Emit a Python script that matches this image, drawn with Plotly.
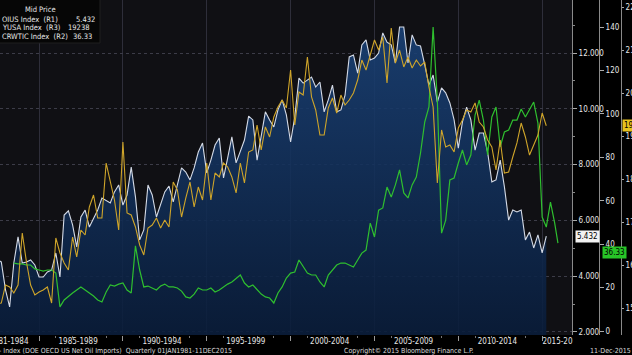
import pandas as pd
import plotly.graph_objects as go

# ---------------- data ----------------
quarters = pd.date_range("1981-01-01", "2015-04-01", freq="QS")  # 1981Q1 .. 2015Q2

net_imports = [  # DOEIUS Index (R1), million b/d
    6.2, 5.6, 5.3, 5.0,
    4.5, 4.0, 4.6, 4.51,
    3.51, 2.90, 4.47, 5.41,
    4.47, 4.51, 4.58, 4.40,
    3.97, 3.97, 4.15, 4.22,
    4.83, 3.97, 6.19, 6.34,
    5.84, 5.05, 6.12, 6.37,
    5.76, 6.09, 6.37, 6.80,
    6.70, 6.62, 7.02, 7.27,
    6.55, 6.91, 7.91, 6.84,
    5.30, 5.66, 7.27, 6.91,
    6.12, 6.55, 7.02, 7.23,
    6.66, 7.27, 7.88, 7.73,
    7.45, 7.88, 8.45, 8.77,
    7.70, 8.16, 8.70, 8.95,
    7.52, 8.24, 8.99, 8.06,
    8.45, 8.88, 9.74, 9.60,
    8.16, 8.99, 9.89, 9.60,
    9.35, 9.96, 10.32, 9.78,
    8.81, 9.71, 11.10, 10.92,
    11.03, 11.14, 10.78, 10.96,
    9.89, 10.32, 10.85, 9.89,
    9.96, 10.49, 11.86, 11.93,
    11.28, 12.29, 12.47, 11.75,
    11.82, 12.00, 12.72, 12.39,
    12.29, 11.64, 12.93, 12.93,
    11.64, 12.65, 12.29, 12.25,
    11.57, 10.85, 11.21, 10.24,
    10.75, 10.57, 10.21, 9.60,
    8.59, 9.53, 10.06, 9.60,
    8.52, 9.13, 9.13, 8.45,
    7.38, 7.45, 8.16, 7.20,
    6.01, 6.37, 6.30, 6.37,
    5.30, 5.58, 5.01, 5.48,
    4.83, 5.432,
]

consumption = [  # ...YUSA Index (R3)
    16600, 15700, 15800, 16000,
    15600, 14900, 15100, 15116,
    15535, 15488, 15349, 15535,
    16745, 16070, 15535, 15302,
    15372, 15419, 15488, 15116,
    16628, 16279, 16047, 15884,
    16651, 16186, 16814, 16698,
    17349, 17628, 17093, 17093,
    18372, 17977, 17512, 16814,
    18861, 17209, 17163, 16884,
    16465, 16233, 16861, 16930,
    17093, 16861, 17047, 16884,
    17931, 17745, 17116, 17558,
    17931, 17349, 17814, 17512,
    18372, 17512, 18140, 18047,
    18372, 18280, 18047, 17675,
    18372, 17907, 18628, 18675,
    19256, 18675, 19210, 18977,
    19442, 19675, 19837, 19651,
    20535, 19256, 20023, 19953,
    20837, 19907, 19605, 19023,
    19023, 19651, 19884, 19535,
    19953, 19721, 19837, 20000,
    20302, 20767, 20535, 20884,
    21233, 21000, 21302, 20233,
    21512, 20698, 21000, 20605,
    20837, 20581, 20767, 20628,
    20721, 20140, 19675, 17907,
    19140, 18745, 18791, 18628,
    19186, 19372, 19605, 19558,
    19768, 19326, 19210, 18907,
    18745, 18209, 18907, 18140,
    18163, 18512, 18838, 19302,
    18977, 18558, 18791, 19023,
    19535, 19238,
]

wti_dates = list(pd.date_range("1983-07-01", "2015-10-01", freq="QS")) + [pd.Timestamp("2015-12-11")]
wti = [  # CRWTIC Index (R2)
    31.3, 30.9,
    30.9, 30.4, 30.4, 28.6,
    28.1, 27.6, 28.1, 28.1,
    26.7, 11.1, 14.3, 15.7,
    17.5, 18.9, 20.3, 18.9,
    17.5, 16.1, 14.3, 13.4,
    18.0, 21.2, 20.7, 21.6,
    22.1, 18.9, 17.5, 39.2,
    28.1, 20.3, 20.7, 19.8,
    18.9, 20.7, 21.6, 20.3,
    20.3, 19.8, 18.4, 15.7,
    15.2, 17.0, 19.8, 18.9,
    18.9, 19.8, 18.0, 18.9,
    20.3, 21.6, 22.6, 24.4,
    25.8, 22.1, 20.3, 21.2,
    18.9, 17.0, 15.7, 15.2,
    12.9, 17.5, 20.3, 24.4,
    26.7, 27.2, 32.7, 29.5,
    26.7, 25.8, 25.8, 22.6,
    20.3, 25.8, 28.1, 30.4,
    31.3, 31.3, 30.4, 29.5,
    32.7, 35.9, 37.3, 49.7,
    43.3, 55.7, 56.7, 66.3,
    61.7, 67.3, 74.2, 63.6,
    61.3, 67.3, 70.9, 82.0,
    96.3, 103.2, 140.0, 106.4,
    45.1, 51.1, 69.6, 70.5,
    77.4, 83.4, 76.5, 81.1,
    99.5, 106.4, 97.2, 81.1,
    98.6, 103.2, 84.8, 91.7,
    92.6, 97.2, 97.2, 102.3,
    98.6, 101.8, 105.5, 95.8,
    52.5, 47.9, 59.4, 49.7,
    40.5,
]
wti_last_price = 36.33

period_bounds = ["1985-01-01", "1990-01-01", "1995-01-01", "2000-01-01",
                 "2005-01-01", "2010-01-01", "2015-01-01"]
period_centers = ["1983-03-15", "1987-05-01", "1992-05-01", "1997-05-01",
                  "2002-05-01", "2007-05-01", "2012-05-01", "2015-12-01"]
period_labels = ["1981-1984", "1985-1989", "1990-1994", "1995-1999",
                 "2000-2004", "2005-2009", "2010-2014", "2015-20"]

r1_ticks = [2, 4, 6, 8, 10, 12]
r2_ticks = [0, 20, 40, 60, 80, 100, 120, 140]
r3_ticks = [15000, 16000, 17000, 18000, 19000, 20000, 21000, 22000]

# ---------------- layout helpers ----------------
W, H = 632, 355
MT, MB = 0, 20
PH = H - MT - MB
FONT = "Liberation Sans Narrow, DejaVu Sans Condensed, Arial Narrow, Liberation Sans, sans-serif"


def px_x(x):
    return x / W


def px_y(y):
    return 1 - (y - MT) / PH


WHITE = "#d4dae6"
YELLOW = "#cfa52a"
GREEN = "#2fbf2f"

fig = go.Figure()

fig.add_trace(go.Scatter(
    x=quarters, y=net_imports, mode="lines", yaxis="y",
    line=dict(color=WHITE, width=1.1), fill="tozeroy",
    fillgradient=dict(type="vertical",
                      colorscale=[[0, "rgba(6,22,48,0.88)"], [1, "rgba(26,66,120,0.88)"]]),
    showlegend=False, hoverinfo="skip"))

fig.add_trace(go.Scatter(
    x=quarters, y=consumption, mode="lines", yaxis="y3",
    line=dict(color=YELLOW, width=1.1), showlegend=False, hoverinfo="skip"))

fig.add_trace(go.Scatter(
    x=wti_dates, y=wti, mode="lines", yaxis="y2",
    line=dict(color=GREEN, width=1.2), showlegend=False, hoverinfo="skip"))

# dummy trace for label axis
fig.add_trace(go.Scatter(x=[quarters[0]], y=[None], xaxis="x2", yaxis="y",
                         mode="lines", showlegend=False, hoverinfo="skip"))

xrange = ["1982-09-03", "2016-10-12"]
dom_right = px_x(572)
tickfont = dict(size=8, color="#e6e6e6", family=FONT)

fig.update_layout(
    width=W, height=H,
    margin=dict(l=0, r=0, t=MT, b=MB, pad=0, autoexpand=False),
    paper_bgcolor="#000000",
    plot_bgcolor="#101014",
    font=dict(family=FONT, size=8, color="#e6e6e6"),
    xaxis=dict(
        domain=[0, dom_right], range=xrange, type="date", automargin=False,
        tickmode="array", tickvals=period_bounds, showticklabels=False,
        ticks="outside", ticklen=5, tickcolor="#9a9a9a",
        showgrid=True, gridcolor="#2e2e3a", gridwidth=1,
        zeroline=False, showline=False,
        minor=dict(dtick="M12", tick0="1981-01-01", ticks="outside", ticklen=2,
                   tickcolor="#777777", showgrid=False),
    ),
    xaxis2=dict(
        overlaying="x", anchor="y", side="bottom", range=xrange, type="date",
        automargin=False, ticklabeloverflow="allow",
        tickmode="array", tickvals=period_centers, ticktext=period_labels,
        ticks="", showgrid=False, zeroline=False, showline=False,
        tickfont=tickfont,
    ),
    yaxis=dict(
        side="right", anchor="free", position=dom_right, automargin=False,
        range=[1.89, 13.90], tickmode="array", tickvals=r1_ticks, tickformat=".3f",
        ticks="outside", ticklen=4, tickcolor="#aaaaaa",
        showline=True, linecolor="#8a8a8a", linewidth=1,
        showgrid=True, gridcolor="#3c3c48", griddash="dot", gridwidth=1,
        zeroline=False,
        minor=dict(dtick=1, ticks="outside", ticklen=2, tickcolor="#888888", showgrid=False),
        tickfont=tickfont,
    ),
    yaxis2=dict(
        overlaying="y", side="right", anchor="free", position=px_x(599), automargin=False,
        range=[-1.84, 152.5], tickmode="array", tickvals=r2_ticks,
        ticks="outside", ticklen=4, tickcolor="#aaaaaa",
        showline=True, linecolor="#8a8a8a", linewidth=1,
        showgrid=False, zeroline=False,
        tickfont=tickfont,
    ),
    yaxis3=dict(
        overlaying="y", side="right", anchor="free", position=px_x(621), automargin=False,
        range=[14372, 22163], tickmode="array", tickvals=r3_ticks, tickformat="d",
        ticks="outside", ticklen=2, tickcolor="#aaaaaa", ticklabeloverflow="allow",
        ticklabelstandoff=0,
        showline=True, linecolor="#8a8a8a", linewidth=1,
        showgrid=False, zeroline=False,
        tickfont=tickfont,
    ),
)

# legend box (top-left)
fig.add_shape(type="rect", xref="paper", yref="paper",
              x0=px_x(-5), x1=px_x(100), y0=px_y(43), y1=px_y(-5),
              fillcolor="#060606", line=dict(color="#1e1e1e", width=1), layer="above")

legend_font = dict(family=FONT, size=7.5, color="#e8e8e8")
ann = []
ann.append(dict(text="Mid Price", x=px_x(40), y=px_y(10), xanchor="center"))
ann.append(dict(text="OIUS Index  (R1)", x=px_x(0), y=px_y(19), xanchor="left"))
ann.append(dict(text=f"{net_imports[-1]:.3f}", x=px_x(97), y=px_y(19), xanchor="right"))
ann.append(dict(text="YUSA Index  (R3)", x=px_x(0), y=px_y(27), xanchor="left"))
ann.append(dict(text=f"{consumption[-1]}", x=px_x(66), y=px_y(27), xanchor="left"))
ann.append(dict(text="CRWTIC Index  (R2)", x=px_x(0), y=px_y(36), xanchor="left"))
ann.append(dict(text=f"{wti_last_price:.2f}", x=px_x(94), y=px_y(36), xanchor="right"))
for a in ann:
    fig.add_annotation(xref="paper", yref="paper", yanchor="middle", showarrow=False,
                       font=legend_font, **a)

# footer
foot_font = dict(family=FONT, size=7, color="#dcdcdc")
fig.add_annotation(xref="paper", yref="paper", x=px_x(-3), y=px_y(350.5), xanchor="left",
                   yanchor="middle", showarrow=False, font=foot_font,
                   text="- Index (DOE OECD US Net Oil Imports)  Quarterly 01JAN1981-11DEC2015")
fig.add_annotation(xref="paper", yref="paper", x=px_x(342), y=px_y(350.5), xanchor="left",
                   yanchor="middle", showarrow=False, font=foot_font,
                   text="Copyright\u00a9 2015 Bloomberg Finance L.P.")
fig.add_annotation(xref="paper", yref="paper", x=px_x(588), y=px_y(350.5), xanchor="left",
                   yanchor="middle", showarrow=False, font=foot_font,
                   text="11-Dec-2015 16:43:12")

# last-value tags on the right axes
tag_font = dict(family=FONT, size=8, color="#000000")
fig.add_annotation(xref="paper", yref="y", x=px_x(575), y=net_imports[-1], xanchor="left",
                   yanchor="middle", showarrow=False, text=f"{net_imports[-1]:.3f}",
                   bgcolor="#f2f2f2", borderpad=1, font=tag_font)
fig.add_annotation(xref="paper", yref="y2", x=px_x(602), y=wti_last_price, xanchor="left",
                   yanchor="middle", showarrow=False, text=f"{wti_last_price:.2f}",
                   bgcolor="#27c427", borderpad=1, font=tag_font)
fig.add_annotation(xref="paper", yref="y3", x=px_x(622), y=consumption[-1], xanchor="left",
                   yanchor="middle", showarrow=False, text=f"{consumption[-1]}",
                   bgcolor="#e6c21e", borderpad=1, font=tag_font)

fig.write_html(
    "out.html",
    config={"displayModeBar": False},
    post_script="document.body.style.margin='0';document.body.style.padding='0';"
                "document.body.style.overflow='hidden';document.body.style.background='#000';",
)
